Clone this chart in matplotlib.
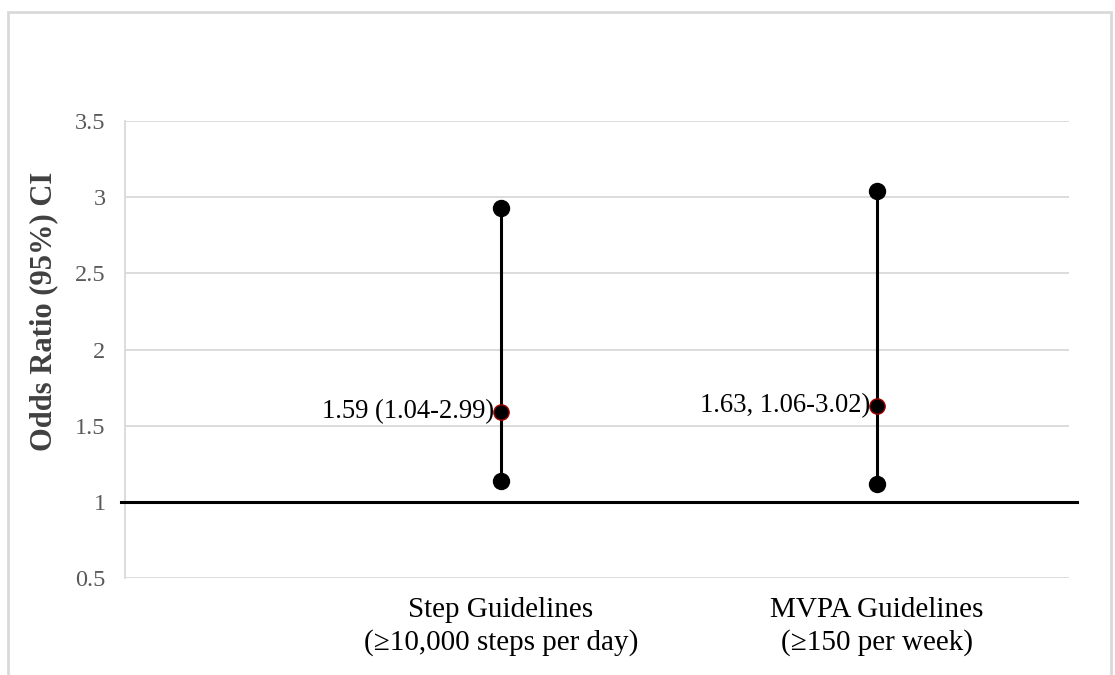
import matplotlib
matplotlib.use("Agg")
import matplotlib.pyplot as plt
import matplotlib.patches as mpatches

plt.rcParams['font.family'] = ['Liberation Serif', 'DejaVu Serif']

# Data
categories = ['Step Guidelines\n(\u226510,000 steps per day)',
              'MVPA Guidelines\n(\u2265150 per week)']
x_pos = [1, 2]
odds_ratio = [1.59, 1.63]
ci_lower = [1.14, 1.12]
ci_upper = [2.93, 3.04]
labels = ['1.59 (1.04-2.99)', '1.63, 1.06-3.02)']
y_ticks = [0.5, 1, 1.5, 2, 2.5, 3, 3.5]

W, H = 1115, 675
fig = plt.figure(figsize=(W / 100, H / 100), dpi=100)
fig.patch.set_facecolor('white')

# light grey outer frame (chart area border)
fig.patches.append(mpatches.Rectangle((8 / W, -0.05), 1103 / W, 1.05 - 12 / H,
                                      transform=fig.transFigure, fill=False,
                                      edgecolor='#d9d9d9', linewidth=2))

ax = fig.add_axes([125 / W, 1 - 578 / H, 944 / W, 457 / H])
ax.set_xlim(0, 2.511)
ax.set_ylim(0.5, 3.5)

ax.set_yticks(y_ticks)
ax.set_yticklabels(['0.5', '1', '1.5', '2', '2.5', '3', '3.5'])
ax.yaxis.grid(True, color='#d9d9d9', linewidth=1.3)
ax.set_axisbelow(True)
for s in ['top', 'right', 'bottom']:
    ax.spines[s].set_visible(False)
ax.spines['left'].set_color('#d9d9d9')
ax.spines['left'].set_linewidth(1.3)
ax.tick_params(axis='y', length=0, pad=14, labelsize=17.5, labelcolor='#595959')
ax.tick_params(axis='x', length=0, pad=14, labelsize=21)
ax.set_xticks(x_pos)
ax.set_xticklabels(categories, linespacing=1.25)

ax.set_ylabel('Odds Ratio (95%) CI', fontsize=22, fontweight='bold',
              color='#404040')
ax.yaxis.set_label_coords(-0.071, 0.584)

# reference line at OR = 1
ax.plot([-0.011, 2.532], [1, 1], color='black', linewidth=2.2, clip_on=False, zorder=3)

for x, lo, hi, mid, lab in zip(x_pos, ci_lower, ci_upper, odds_ratio, labels):
    ax.plot([x, x], [lo, hi], color='black', linewidth=2.2, zorder=4)
    ax.plot([x, x], [lo, hi], linestyle='none', marker='o', markersize=11.5,
            color='black', zorder=5)
    ax.plot([x], [mid], linestyle='none', marker='o', markersize=11,
            markerfacecolor='black', markeredgecolor='#a00000', markeredgewidth=1,
            zorder=6)
    ax.annotate(lab, (x, mid), xytext=(-5, 0), textcoords='offset points',
                ha='right', va='center', fontsize=19.2, color='black')

fig.savefig('out.png', dpi=100, facecolor='white')
